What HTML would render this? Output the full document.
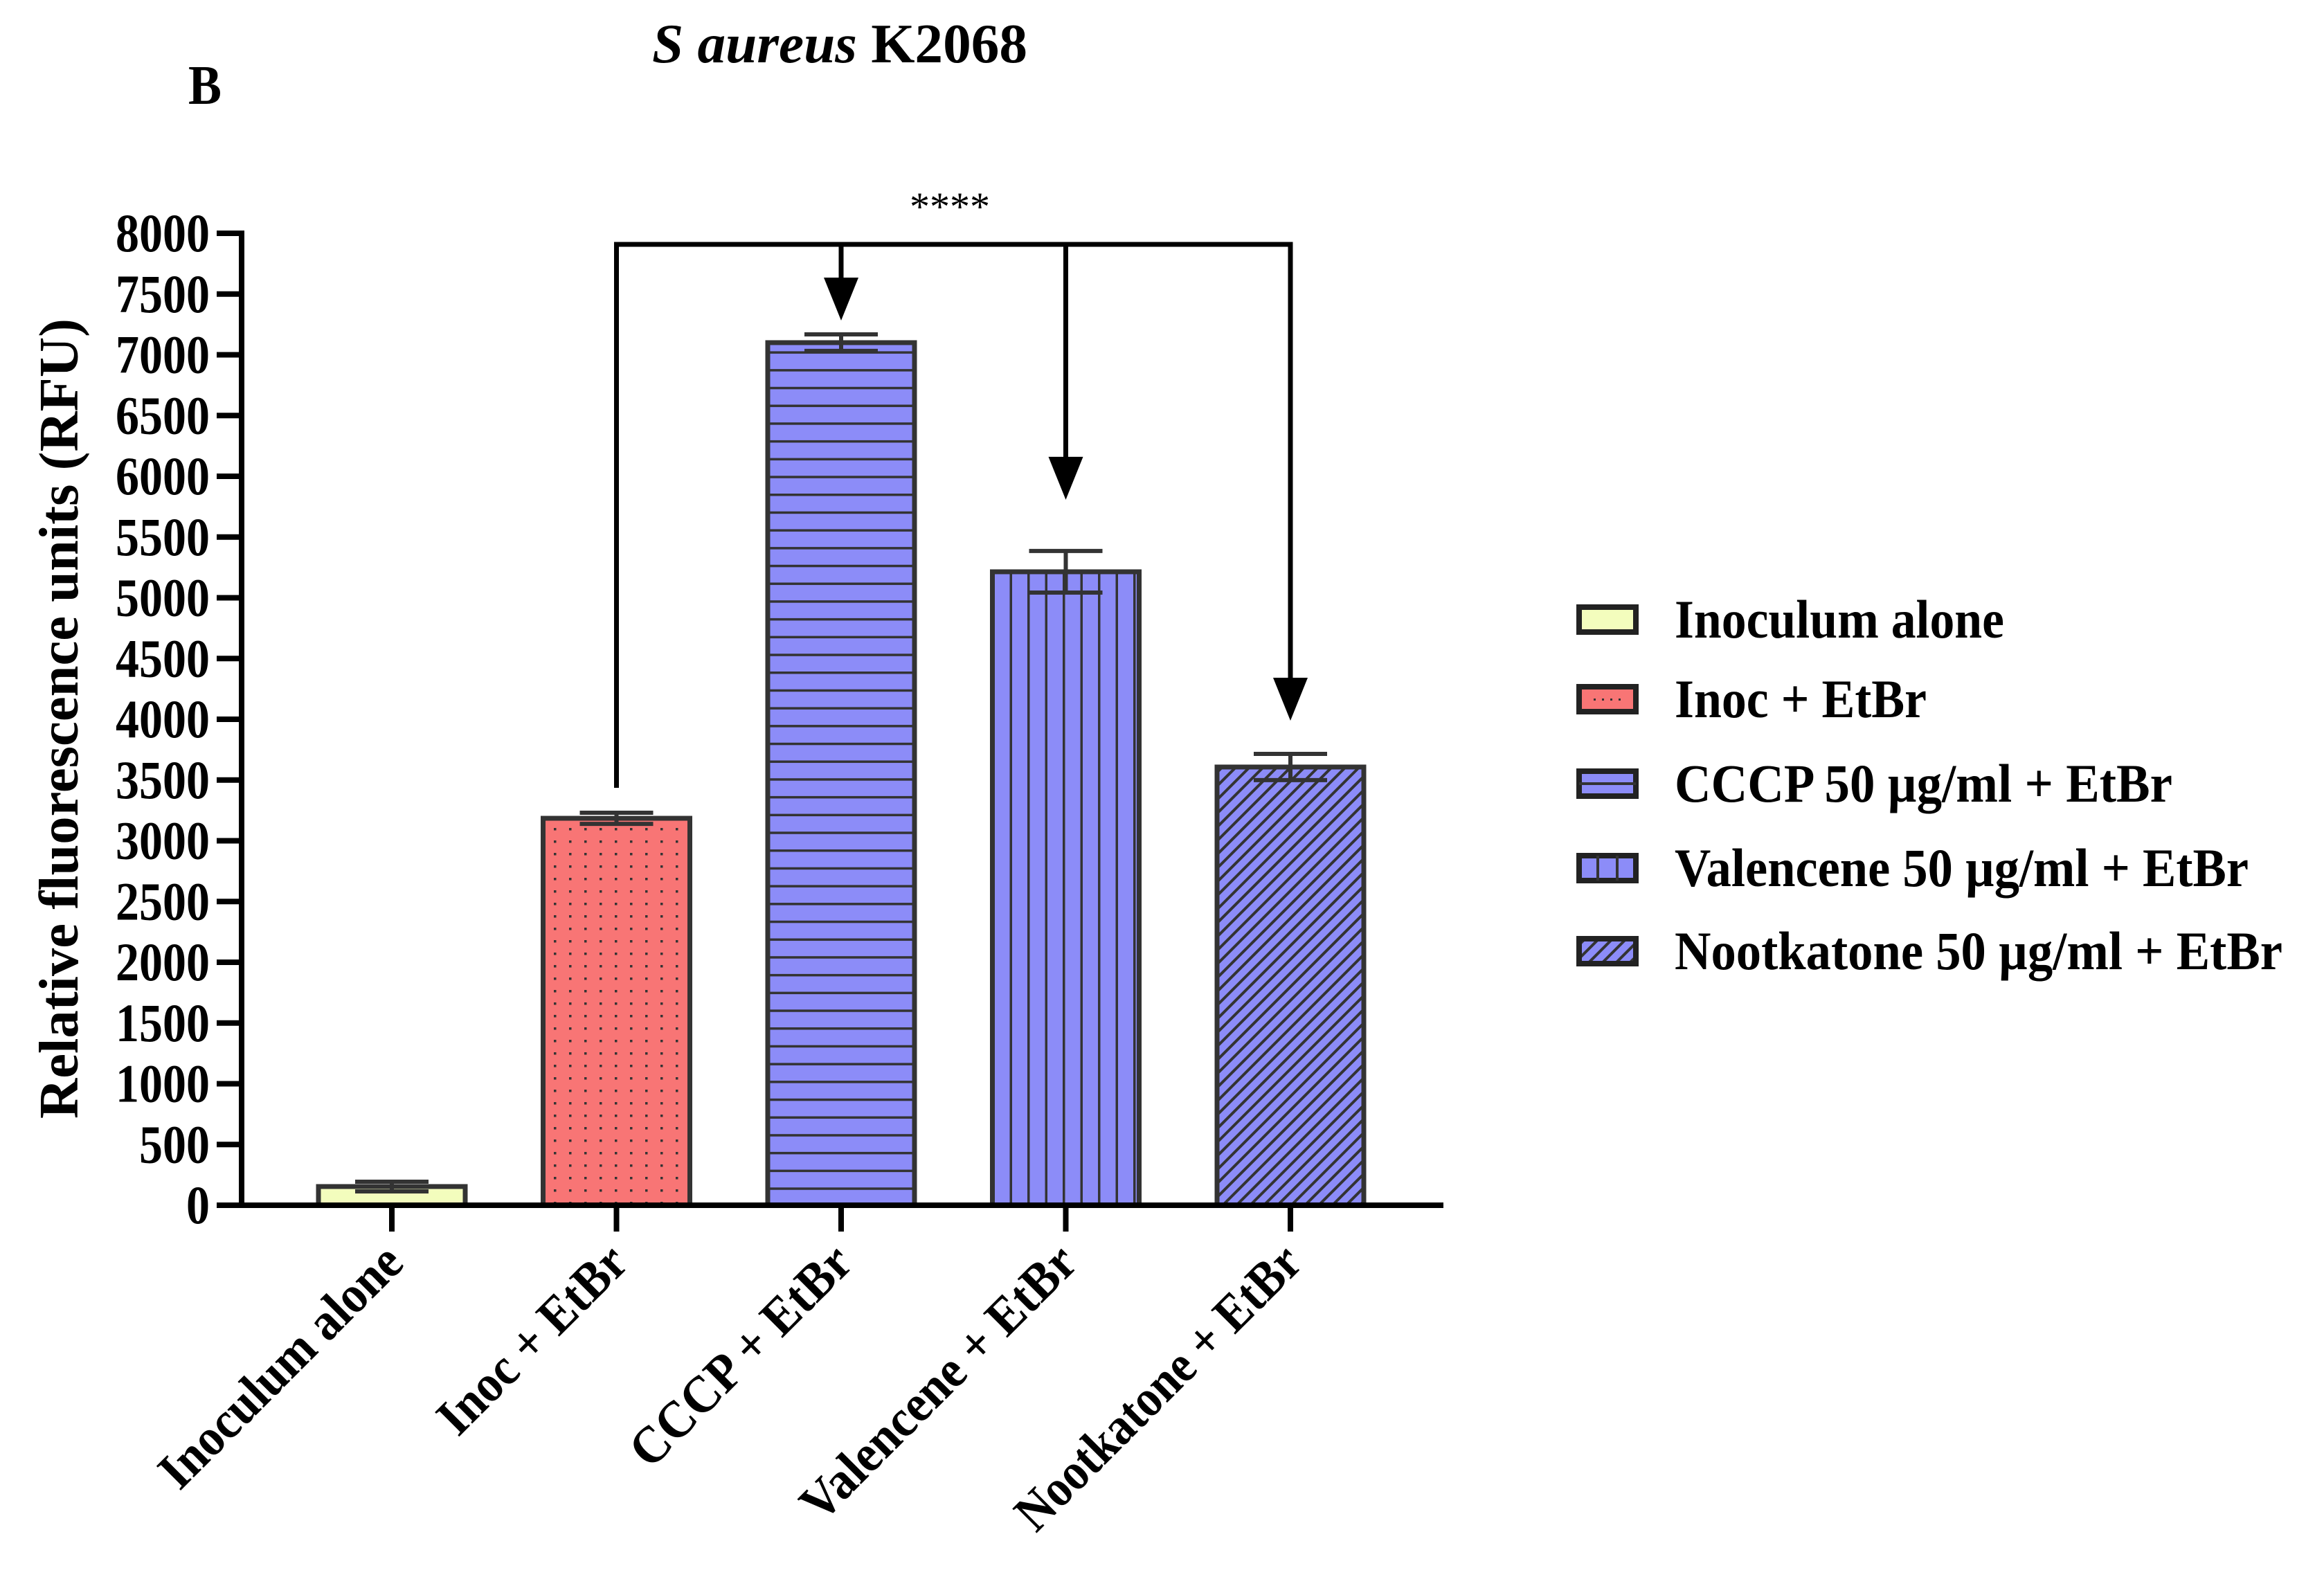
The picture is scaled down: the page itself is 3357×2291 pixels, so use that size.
<!DOCTYPE html>
<html><head><meta charset="utf-8"><style>
html,body{margin:0;padding:0;background:#fff;}
svg{display:block;}
text{font-family:"Liberation Serif",serif;font-weight:bold;fill:#000;}
</style></head><body>
<svg id="chart" width="3357" height="2291" viewBox="0 0 3357 2291" xmlns="http://www.w3.org/2000/svg">
<defs>
<pattern id="pDots" patternUnits="userSpaceOnUse" width="22" height="18" x="461" y="0"><rect width="22" height="18" fill="#f87575"/><rect x="9" y="8" width="3.5" height="3.5" fill="#333"/></pattern>
<pattern id="pHoriz" patternUnits="userSpaceOnUse" width="30" height="25.7" y="1741"><rect width="30" height="25.7" fill="#8c8cf8"/><rect y="0" width="30" height="3.5" fill="#333"/></pattern>
<pattern id="pVert" patternUnits="userSpaceOnUse" width="25.5" height="30" x="1433"><rect width="25.5" height="30" fill="#8c8cf8"/><rect x="0" width="3.5" height="30" fill="#333"/></pattern>
<pattern id="pDiag" patternUnits="userSpaceOnUse" width="14" height="14" patternTransform="rotate(45)"><rect width="14" height="14" fill="#8c8cf8"/><rect x="0" width="4" height="14" fill="#333"/></pattern>
</defs>
<text x="272" y="150" font-size="80" textLength="48" lengthAdjust="spacingAndGlyphs">B</text>
<text x="1213" y="90" font-size="80" text-anchor="middle" textLength="542" lengthAdjust="spacingAndGlyphs"><tspan font-style="italic">S aureus</tspan> K2068</text>
<text transform="translate(112,1038) rotate(-90)" font-size="80" text-anchor="middle" textLength="1156" lengthAdjust="spacingAndGlyphs">Relative fluorescence units (RFU)</text>
<g id="yaxis"></g>
<g id="bars"></g>
<g id="xaxis"></g>
<g id="sig"></g>
<g id="legend"></g>
</svg>
<script>
const categories = ["Inoculum alone","Inoc + EtBr","CCCP + EtBr","Valencene + EtBr","Nootkatone + EtBr"];
const values = [154, 3185, 7100, 5214, 3607];
const errors = [40, 46, 68, 171, 108];
const yTicks = [0,500,1000,1500,2000,2500,3000,3500,4000,4500,5000,5500,6000,6500,7000,7500,8000];
const legendLabels = ["Inoculum alone","Inoc + EtBr","CCCP 50 \u00b5g/ml + EtBr","Valencene 50 \u00b5g/ml + EtBr","Nootkatone 50 \u00b5g/ml + EtBr"];
const sigLabel = "****";

const fills = ["#f3fdbd","url(#pDots)","url(#pHoriz)","url(#pVert)","url(#pDiag)"];
const legendFills = ["#f3fdbd","#f87575","#8c8cf8","#8c8cf8","url(#pDiag)"];
const legendLens = [476,364,719,829,878];
const xLabelLens = [462,352,418,528,548];
const arrowGaps = [0,0,20,74,48];

const NS="http://www.w3.org/2000/svg";
const y0=1741, yTop=337, yMax=8000;
const y=v=>y0-(v/yMax)*(y0-yTop);
const xFirst=566, xStep=324.5, bw=212;
const x=i=>xFirst+i*xStep;
function mk(tag,attrs,parent){const e=document.createElementNS(NS,tag);for(const k in attrs)e.setAttribute(k,attrs[k]);parent.appendChild(e);return e;}

const gy=document.getElementById('yaxis');
yTicks.forEach(t=>{
  const l=mk('line',{x1:313,x2:353,y1:y(t),y2:y(t),stroke:'#000','stroke-width':8},gy);
  
  
  const s=String(t);
  const tx=mk('text',{x:303,y:y(t)+26,'font-size':78,'text-anchor':'end',textLength:s.length*34,lengthAdjust:'spacingAndGlyphs'},gy);
  tx.textContent=s;
  
  
});
const ya=mk('line',{x1:349,x2:349,y1:y(yMax)-4,y2:y0+4,stroke:'#000','stroke-width':8},gy);



const gb=document.getElementById('bars');
values.forEach((v,i)=>{
  const cx=x(i);
  const r=mk('rect',{x:cx-bw/2,y:y(v),width:bw,height:y0-y(v),fill:fills[i],stroke:'#333','stroke-width':7},gb);
  
  
  const e=errors[i];
  const eg=mk('g',{stroke:'#333','stroke-width':6},gb);
  
  
  mk('line',{x1:cx,x2:cx,y1:y(v+e),y2:y(v-e)},eg);
  mk('line',{x1:cx-53,x2:cx+53,y1:y(v+e),y2:y(v+e)},eg);
  mk('line',{x1:cx-53,x2:cx+53,y1:y(v-e),y2:y(v-e)},eg);
});

const gx=document.getElementById('xaxis');
const xa=mk('line',{x1:313,x2:2085,y1:y0,y2:y0,stroke:'#000','stroke-width':8},gx);


categories.forEach((c,i)=>{
  const t=mk('line',{x1:x(i),x2:x(i),y1:y0,y2:1779,stroke:'#000','stroke-width':8},gx);
  
  
  const tx=mk('text',{transform:`translate(${x(i)+20},1828) rotate(-45)`,'font-size':76,'text-anchor':'end',textLength:xLabelLens[i],lengthAdjust:'spacingAndGlyphs'},gx);
  tx.textContent=c;
  
  
});

const gs=document.getElementById('sig');
const by=353;
mk('polyline',{points:`${x(1)},1138 ${x(1)},${by} ${x(4)},${by} ${x(4)},${y(values[4]+errors[4])-90}`,fill:'none',stroke:'#000','stroke-width':7},gs);
[2,3,4].forEach(i=>{
  const tip=y(values[i]+errors[i])-arrowGaps[i];
  if(i!==4) mk('line',{x1:x(i),x2:x(i),y1:by,y2:tip-50,stroke:'#000','stroke-width':7},gs);
  const a=mk('polygon',{points:`${x(i)-25},${tip-62} ${x(i)+25},${tip-62} ${x(i)},${tip}`,fill:'#000'},gs);
  
  
});
const st=mk('text',{x:1372,y:318,'font-size':58,'text-anchor':'middle'},gs);
st.style.fontWeight='normal';
st.textContent=sigLabel;



const gl=document.getElementById('legend');
const ly=[895,1010,1132,1254,1374];
legendLabels.forEach((lab,i)=>{
  const g=mk('g',{},gl);
  
  
  mk('rect',{x:2281,y:ly[i]-18,width:82,height:36,fill:legendFills[i],stroke:'#222','stroke-width':8},g);
  if(i===1){for(let k=0;k<4;k++)mk('rect',{x:2302+k*12,y:ly[i]-1,width:3,height:3,fill:'#333'},g);}
  if(i===2){mk('line',{x1:2281,x2:2363,y1:ly[i],y2:ly[i],stroke:'#333','stroke-width':4},g);}
  if(i===3){mk('line',{x1:2308,x2:2308,y1:ly[i]-18,y2:ly[i]+18,stroke:'#333','stroke-width':4},g);mk('line',{x1:2336,x2:2336,y1:ly[i]-18,y2:ly[i]+18,stroke:'#333','stroke-width':4},g);}
  const t=mk('text',{x:2419,y:ly[i]+26,'font-size':78,textLength:legendLens[i],lengthAdjust:'spacingAndGlyphs'},g);
  t.textContent=lab;
});
</script>
</body></html>
